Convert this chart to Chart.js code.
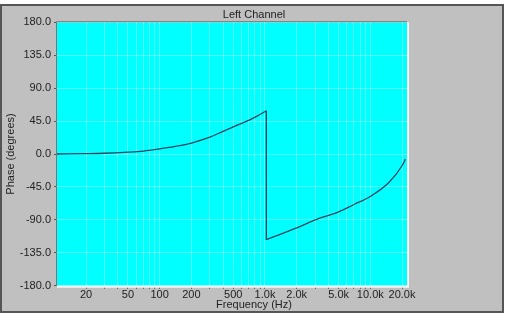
<!DOCTYPE html>
<html>
<head>
<meta charset="utf-8">
<script src="https://cdn.jsdelivr.net/npm/chart.js@4"></script>
<style>
  html, body { margin: 0; padding: 0; background: #fff; }
  #wrap { width: 508px; height: 320px; position: relative; }
</style>
</head>
<body>
<div id="wrap"><canvas id="chart" width="508" height="320"></canvas></div>
<script>
// Phase response, left channel
// the curve wraps at about 1 kHz, so it is kept as two pieces
const freqsLow = [10.6, 20, 30, 50, 70, 100, 150, 200, 300, 400, 500, 700, 850, 1028];
const phaseLow = [0, 0.5, 1, 2.5, 4, 7, 11, 15, 23, 31, 37, 46, 52, 59];
const freqsHigh = [1030, 1500, 2000, 3000, 5000, 7000, 10000, 15000, 20000, 21500];
const phaseHigh = [-117, -108, -101, -90, -79, -69, -58, -39, -16, -7];

// x grid: every 1..9 step of each decade, only some are labelled
const xTicks = [20, 30, 40, 50, 60, 70, 80, 90,
                100, 200, 300, 400, 500, 600, 700, 800, 900,
                1000, 2000, 3000, 4000, 5000, 6000, 7000, 8000, 9000,
                10000, 20000];
const xLabels = { 20: '20', 50: '50', 100: '100', 200: '200', 500: '500',
                  1000: '1.0k', 2000: '2.0k', 5000: '5.0k', 10000: '10.0k', 20000: '20.0k' };
const yTicks = [-180, -135, -90, -45, 0, 45, 90, 135, 180];

const textColor = '#222';
const font = { family: 'Liberation Sans', size: 11, weight: 'normal' };
const lineColor = '#1e4660';
const gridColor = 'rgba(255,255,255,0.32)';

// gray panel, cyan plot area and the bevelled plot edge
const panelPlugin = {
    id: 'panel',
    beforeDraw(chart) {
        const c = chart.ctx;
        const a = chart.chartArea;
        c.save();
        c.fillStyle = '#fff';
        c.fillRect(0, 0, chart.width, chart.height);
        c.fillStyle = '#c0c0c0';
        c.fillRect(0, 4, 504, 309);
        c.strokeStyle = '#555';
        c.lineWidth = 2;
        c.strokeRect(1, 5, 502, 307);
        c.fillStyle = '#00ffff';
        c.fillRect(a.left, a.top, a.right - a.left, a.bottom - a.top);
        c.restore();
    },
    afterDatasetsDraw(chart) {
        const c = chart.ctx;
        const a = chart.chartArea;
        c.save();
        c.lineWidth = 2;
        c.strokeStyle = '#f4f4f4';
        c.beginPath();
        c.moveTo(a.right + 1, a.top);
        c.lineTo(a.right + 1, a.bottom + 1);
        c.lineTo(a.left, a.bottom + 1);
        c.stroke();
        c.lineWidth = 1;
        c.strokeStyle = '#777';
        c.beginPath();
        c.moveTo(a.left - 0.5, a.bottom);
        c.lineTo(a.left - 0.5, a.top - 0.5);
        c.lineTo(a.right, a.top - 0.5);
        c.stroke();
        c.restore();
    }
};

const lineStyle = {
    borderColor: lineColor,
    borderWidth: 1.3,
    pointRadius: 0,
    fill: false
};

const lastLow = freqsLow.length - 1;

new Chart(document.getElementById('chart'), {
    type: 'line',
    data: {
        datasets: [
            Object.assign({
                label: 'Left Channel',
                data: freqsLow.map((f, i) => ({ x: f, y: phaseLow[i] })),
                cubicInterpolationMode: 'monotone'
            }, lineStyle),
            // the wrap from +59 to -117 degrees
            Object.assign({
                label: 'wrap',
                data: [{ x: freqsLow[lastLow], y: phaseLow[lastLow] }, { x: freqsHigh[0], y: phaseHigh[0] }]
            }, lineStyle),
            Object.assign({
                label: 'Left Channel (wrapped)',
                data: freqsHigh.map((f, i) => ({ x: f, y: phaseHigh[i] })),
                cubicInterpolationMode: 'monotone'
            }, lineStyle)
        ]
    },
    options: {
        responsive: false,
        animation: false,
        layout: { padding: { left: 4, right: 4, top: 0, bottom: 8 } },
        scales: {
            x: {
                type: 'logarithmic',
                min: 10.6,
                max: 22300,
                afterBuildTicks: (axis) => { axis.ticks = xTicks.map(v => ({ value: v })); },
                afterFit: (axis) => { axis.height = 13; },
                ticks: {
                    autoSkip: false,
                    maxRotation: 0,
                    padding: 0,
                    color: textColor,
                    font: font,
                    callback: (v) => xLabels[v] || ''
                },
                grid: {
                    color: gridColor,
                    tickColor: '#555',
                    tickLength: 3
                },
                border: { display: false }
            },
            y: {
                min: -180,
                max: 180,
                afterBuildTicks: (axis) => { axis.ticks = yTicks.map(v => ({ value: v })); },
                afterFit: (axis) => { axis.width = 53; },
                title: { display: true, text: 'Phase (degrees)', color: textColor, font: font, padding: 0 },
                ticks: {
                    padding: 3,
                    color: textColor,
                    font: font,
                    callback: (v) => v.toFixed(1)
                },
                grid: {
                    color: gridColor,
                    tickColor: '#555',
                    tickLength: 3
                },
                border: { display: false }
            },
            // empty gray strip to the right of the plot
            side: {
                position: 'right',
                afterFit: (axis) => { axis.width = 97; },
                ticks: { display: false },
                grid: { display: false },
                border: { display: false }
            }
        },
        plugins: {
            legend: { display: false },
            tooltip: { enabled: false },
            title: {
                display: true,
                text: 'Left Channel',
                color: textColor,
                font: font,
                padding: { top: 8, bottom: 1 }
            },
            subtitle: {
                display: true,
                position: 'bottom',
                text: 'Frequency (Hz)',
                color: textColor,
                font: font,
                padding: 0
            }
        }
    },
    plugins: [panelPlugin]
});
</script>
</body>
</html>
